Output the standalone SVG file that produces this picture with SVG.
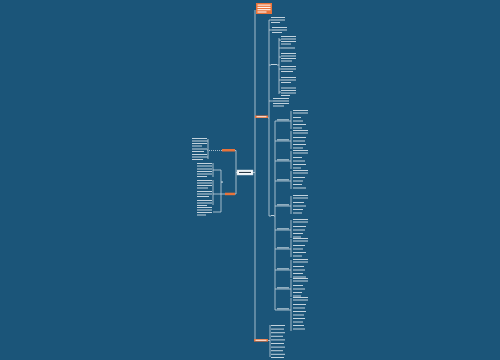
<svg xmlns="http://www.w3.org/2000/svg" width="500" height="360" viewBox="0 0 500 360">
<style>
.c{stroke:#c6d6e0;stroke-width:0.8;fill:none}
.d{stroke:#c6d6e0;stroke-width:0.8;fill:none;stroke-dasharray:1 1}
.t{fill:#e8eff4;opacity:.82}
.k{fill:#2a3a46}
.o{fill:#e9733a}
.r{fill:#f5f8fa;stroke:#c6d6e0;stroke-width:.5}
</style>
<rect width="500" height="360" fill="#1b5579"/>
<g id="connectors">
<path class="c" d="M253,172.5H255M255,10V340.5M255,117.5H256M255,340.5H256"/>
<path class="c" d="M237,172.5H236M236,150.5V194M236,150.5H235M236,194H235"/>
<path class="c" d="M268,118H269M269,20V216M269,20H271M269,30H272M269,65H271M269,101H273M269,216H271"/>
<path class="c" d="M277,65H279M279,38V94M279,40H281M279,48H281M279,57H281M279,69H281M279,80H281M279,92H281"/>
<path class="c" d="M274,216H275M275,121V310M275,121H291M275,141H291M275,161H291M275,181H291M275,206H291M275,230H291M275,249H291M275,270H291M275,289H291M275,310H291"/>
<path class="c" d="M291,111V129M291,131V149M291,151V169M291,171V189M291,196V214M291,220V238M291,239V257M291,260V278M291,279V297M291,298V331"/>
<path class="c" d="M268,340.5H270M270,325V357"/>
<path class="d" d="M222,150.5H208"/>
<path class="c" d="M208,139V159M208,141H207M208,150H207M208,157H207"/>
<path class="c" d="M225,194H221M221,170V212M221,170H213M213,163V177M221,194H213M213,180V205M221,212H213"/>
</g>
<g id="root"><rect class="r" x="237" y="170" width="16" height="5"/><rect class="k" x="239" y="171.9" width="12" height="1.1"/></g>
<g id="n-top"><rect class="o" x="256" y="3" width="16" height="11"/><rect x="257.5" y="4.6" width="13" height="1" fill="#fff"/><rect x="257.5" y="6.9" width="13" height="1" fill="#fff"/><rect x="257.5" y="9.2" width="13" height="1" fill="#fff"/><rect x="257.5" y="11.5" width="9" height="1" fill="#fff"/></g>
<g id="n-mid"><rect class="o" x="255" y="115.5" width="13" height="2.5"/><rect x="256.5" y="116.3" width="10" height="0.9" fill="#fff"/></g>
<g id="n-bot"><rect class="o" x="254" y="339" width="14" height="2.6"/><rect x="255.5" y="339.8" width="11" height="0.9" fill="#fff"/></g>
<g id="n-left1"><rect class="o" x="222" y="149" width="13" height="2.5"/></g>
<g id="n-left2"><rect class="o" x="225" y="192.7" width="10" height="2.5"/></g>
<g id="n-icon"><rect class="t" x="221.3" y="181.3" width="1.5" height="1.5"/></g>
<g id="m-a" class="t"><rect x="271" y="17" width="14" height="1"/><rect x="271" y="19.5" width="14" height="1"/><rect x="271" y="22" width="9" height="1"/></g>
<g id="m-b" class="t"><rect x="272" y="27" width="15" height="1"/><rect x="272" y="29.5" width="15" height="1"/><rect x="272" y="32" width="10" height="1"/></g>
<g id="m-c" class="t"><rect x="271" y="64" width="6" height="1"/>
<rect x="281" y="36" width="15" height="1"/><rect x="281" y="38.5" width="15" height="1"/><rect x="281" y="41" width="15" height="1"/><rect x="281" y="43.5" width="10" height="1"/>
<rect x="281" y="47.5" width="14" height="1"/>
<rect x="281" y="53" width="15" height="1"/><rect x="281" y="55.5" width="15" height="1"/><rect x="281" y="58" width="15" height="1"/><rect x="281" y="60.5" width="11" height="1"/>
<rect x="281" y="66" width="15" height="1"/><rect x="281" y="68.5" width="15" height="1"/><rect x="281" y="71" width="12" height="1"/>
<rect x="281" y="77" width="15" height="1"/><rect x="281" y="79.5" width="15" height="1"/><rect x="281" y="82" width="10" height="1"/>
<rect x="281" y="87.5" width="15" height="1"/><rect x="281" y="90" width="15" height="1"/><rect x="281" y="92.5" width="15" height="1"/><rect x="281" y="95" width="9" height="1"/></g>
<g id="m-d" class="t"><rect x="273" y="98" width="16" height="1"/><rect x="273" y="100.5" width="16" height="1"/><rect x="273" y="103" width="16" height="1"/><rect x="273" y="105.5" width="11" height="1"/></g>
<g id="m-e" class="t"><rect x="271" y="215" width="3" height="1"/>
<rect x="277" y="119.3" width="12" height="1"/><rect x="277" y="139.3" width="12" height="1"/><rect x="277" y="159.3" width="12" height="1"/><rect x="277" y="179.3" width="12" height="1"/><rect x="277" y="204.3" width="12" height="1"/><rect x="277" y="228.3" width="12" height="1"/><rect x="277" y="247.3" width="12" height="1"/><rect x="277" y="268.3" width="12" height="1"/><rect x="277" y="287.3" width="12" height="1"/><rect x="277" y="308.3" width="12" height="1"/></g>
<g id="g1" class="t"><rect x="293" y="110" width="15" height="1"/><rect x="293" y="112.5" width="15" height="1"/><rect x="293" y="117" width="8" height="1"/><rect x="293" y="120.5" width="10" height="1"/><rect x="293" y="124" width="13" height="1"/><rect x="293" y="127.5" width="9" height="1"/></g>
<g id="g2" class="t"><rect x="293" y="130" width="15" height="1"/><rect x="293" y="132.5" width="15" height="1"/><rect x="293" y="137" width="13" height="1"/><rect x="293" y="140.5" width="12" height="1"/><rect x="293" y="144" width="13" height="1"/><rect x="293" y="147.5" width="10" height="1"/></g>
<g id="g3" class="t"><rect x="293" y="150" width="15" height="1"/><rect x="293" y="152.5" width="15" height="1"/><rect x="293" y="157" width="9" height="1"/><rect x="293" y="160.5" width="12" height="1"/><rect x="293" y="164" width="13" height="1"/><rect x="293" y="167.5" width="8" height="1"/></g>
<g id="g4" class="t"><rect x="293" y="170" width="15" height="1"/><rect x="293" y="172.5" width="15" height="1"/><rect x="293" y="177" width="12" height="1"/><rect x="293" y="180.5" width="10" height="1"/><rect x="293" y="184" width="9" height="1"/><rect x="293" y="187.5" width="13" height="1"/></g>
<g id="g5" class="t"><rect x="293" y="195" width="15" height="1"/><rect x="293" y="197.5" width="15" height="1"/><rect x="293" y="202" width="11" height="1"/><rect x="293" y="205.5" width="13" height="1"/><rect x="293" y="209" width="10" height="1"/><rect x="293" y="212.5" width="9" height="1"/></g>
<g id="g6" class="t"><rect x="293" y="219" width="15" height="1"/><rect x="293" y="221.5" width="15" height="1"/><rect x="293" y="226" width="13" height="1"/><rect x="293" y="229.5" width="12" height="1"/><rect x="293" y="233" width="10" height="1"/><rect x="293" y="236.5" width="8" height="1"/></g>
<g id="g7" class="t"><rect x="293" y="238" width="15" height="1"/><rect x="293" y="240.5" width="15" height="1"/><rect x="293" y="245" width="12" height="1"/><rect x="293" y="248.5" width="10" height="1"/><rect x="293" y="252" width="13" height="1"/><rect x="293" y="255.5" width="9" height="1"/></g>
<g id="g8" class="t"><rect x="293" y="259" width="15" height="1"/><rect x="293" y="261.5" width="15" height="1"/><rect x="293" y="266" width="11" height="1"/><rect x="293" y="269.5" width="12" height="1"/><rect x="293" y="273" width="10" height="1"/><rect x="293" y="276.5" width="13" height="1"/></g>
<g id="g9" class="t"><rect x="293" y="278" width="15" height="1"/><rect x="293" y="280.5" width="15" height="1"/><rect x="293" y="285" width="10" height="1"/><rect x="293" y="288.5" width="12" height="1"/><rect x="293" y="292" width="9" height="1"/><rect x="293" y="295.5" width="8" height="1"/></g>
<g id="g10" class="t"><rect x="293" y="297" width="15" height="1"/><rect x="293" y="299.5" width="15" height="1"/><rect x="293" y="304" width="13" height="1"/><rect x="293" y="307.5" width="12" height="1"/><rect x="293" y="311" width="13" height="1"/><rect x="293" y="314.5" width="11" height="1"/><rect x="293" y="318" width="12" height="1"/><rect x="293" y="321.5" width="10" height="1"/><rect x="293" y="325" width="11" height="1"/><rect x="293" y="328.5" width="12" height="1"/></g>
<g id="bottom-list" class="t"><rect x="271" y="325" width="14" height="1"/><rect x="271" y="328.6" width="13" height="1"/><rect x="271" y="332.2" width="14" height="1"/><rect x="271" y="335.8" width="12" height="1"/><rect x="271" y="339.4" width="14" height="1"/><rect x="271" y="343" width="13" height="1"/><rect x="271" y="346.6" width="14" height="1"/><rect x="271" y="350.2" width="12" height="1"/><rect x="271" y="353.8" width="14" height="1"/><rect x="271" y="357" width="13" height="1"/></g>
<g id="left-top" class="t"><rect x="192" y="138" width="15" height="1"/><rect x="192" y="140.5" width="15" height="1"/><rect x="192" y="143" width="15" height="1"/><rect x="192" y="145.5" width="10" height="1"/><rect x="192" y="148.5" width="15" height="1"/><rect x="192" y="151" width="12" height="1"/><rect x="192" y="154" width="15" height="1"/><rect x="192" y="156.5" width="15" height="1"/><rect x="192" y="159" width="11" height="1"/></g>
<g id="left-bot" class="t"><rect x="197" y="163" width="15" height="1"/><rect x="197" y="165.5" width="15" height="1"/><rect x="197" y="168.5" width="15" height="1"/><rect x="197" y="171" width="15" height="1"/><rect x="197" y="173.5" width="15" height="1"/><rect x="197" y="176" width="10" height="1"/>
<rect x="197" y="180" width="15" height="1"/><rect x="197" y="182.5" width="15" height="1"/><rect x="197" y="185" width="15" height="1"/><rect x="197" y="187.5" width="11" height="1"/><rect x="197" y="191" width="15" height="1"/><rect x="197" y="193.5" width="15" height="1"/><rect x="197" y="196" width="12" height="1"/><rect x="197" y="200" width="15" height="1"/><rect x="197" y="202.5" width="15" height="1"/><rect x="197" y="205" width="10" height="1"/>
<rect x="197" y="207" width="15" height="1"/><rect x="197" y="209.5" width="15" height="1"/><rect x="197" y="212" width="15" height="1"/><rect x="197" y="214.5" width="9" height="1"/></g>
</svg>
